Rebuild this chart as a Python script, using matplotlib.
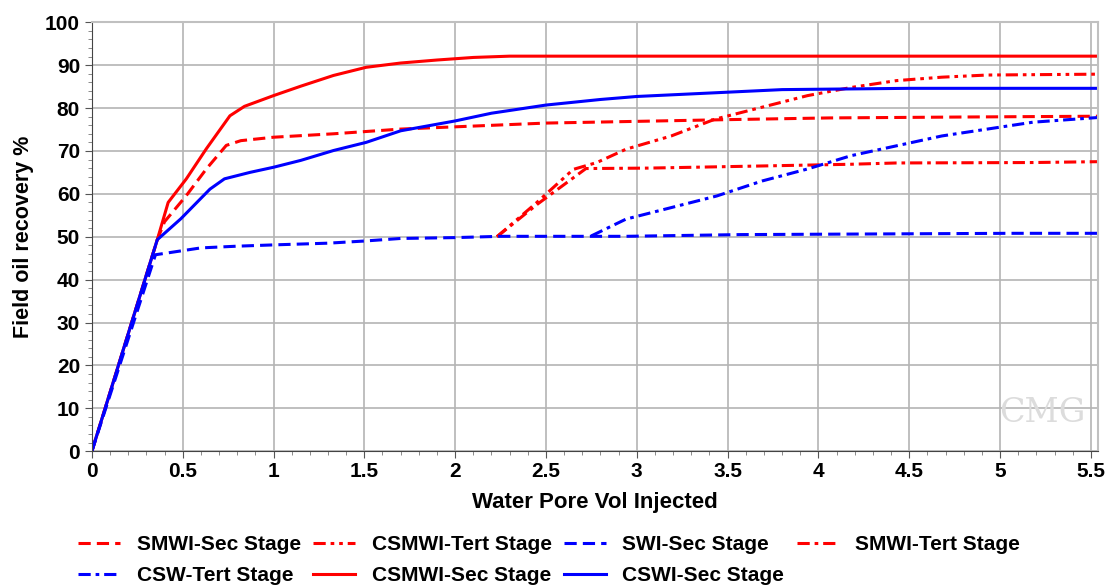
import matplotlib.pyplot as plt
from matplotlib.ticker import MultipleLocator

plt.rcParams['font.family'] = ['Liberation Sans', 'DejaVu Sans']
plt.rcParams['font.weight'] = 'bold'

# Water pore volume injected vs field oil recovery (%)
smwi_sec_x = [0, 0.36, 0.40, 0.52, 0.63, 0.74, 0.82, 1.0, 1.33, 1.7, 2.5, 3.5, 4.06, 4.75, 5.54]
smwi_sec_y = [0, 49.3, 53.5, 59.6, 65.8, 71.3, 72.4, 73.2, 74.0, 75.1, 76.5, 77.3, 77.7, 77.9, 78.1]

csmwi_tert_x = [2.23, 2.45, 2.65, 2.78, 2.94, 3.19, 3.43, 3.69, 3.94, 4.18, 4.43, 4.68, 4.93, 5.54]
csmwi_tert_y = [50.0, 58.0, 65.7, 67.3, 70.4, 73.5, 77.4, 80.2, 82.9, 84.8, 86.4, 87.2, 87.7, 87.9]

swi_sec_x = [0, 0.35, 0.6, 0.8, 1.0, 1.3, 1.5, 1.7, 2.0, 2.25, 2.94, 3.57, 5.06, 5.54]
swi_sec_y = [0, 45.8, 47.4, 47.8, 48.1, 48.5, 49.0, 49.6, 49.8, 50.1, 50.1, 50.5, 50.8, 50.8]

smwi_tert_x = [2.23, 2.45, 2.72, 3.06, 3.69, 4.18, 4.43, 5.18, 5.54]
smwi_tert_y = [50.0, 57.5, 65.9, 66.0, 66.5, 66.9, 67.2, 67.3, 67.5]

csw_tert_x = [2.75, 2.94, 3.19, 3.44, 3.69, 3.94, 4.18, 4.43, 4.68, 4.93, 5.18, 5.54]
csw_tert_y = [50.2, 54.1, 56.8, 59.5, 63.0, 65.8, 68.9, 71.2, 73.5, 75.1, 76.7, 77.8]

csmwi_sec_x = [0, 0.36, 0.42, 0.52, 0.63, 0.76, 0.84, 1.0, 1.15, 1.33, 1.51, 1.7, 1.9, 2.1, 2.3, 5.54]
csmwi_sec_y = [0, 49.3, 58.0, 63.5, 70.5, 78.2, 80.4, 82.9, 85.1, 87.6, 89.5, 90.5, 91.2, 91.8, 92.1, 92.1]

cswi_sec_x = [0, 0.36, 0.49, 0.65, 0.73, 0.87, 1.0, 1.15, 1.33, 1.51, 1.7, 2.0, 2.2, 2.5, 2.8, 3.0, 3.5, 3.8, 4.5, 5.54]
cswi_sec_y = [0, 49.3, 54.2, 61.1, 63.5, 65.0, 66.2, 67.8, 70.1, 72.0, 74.7, 77.0, 78.8, 80.7, 82.0, 82.7, 83.7, 84.3, 84.6, 84.6]

red = '#ff0000'
blue = '#0000ff'
dash = (0, (4, 2))
dashdotdot = (0, (4, 1.6, 1.2, 1.6, 1.2, 1.6))
dashdot = (0, (4, 1.6, 1.2, 1.6))

fig = plt.figure(figsize=(11.07, 5.86), dpi=100)
ax = fig.add_axes([0.083, 0.230, 0.909, 0.732])

lw = 2.2
h1, = ax.plot(smwi_sec_x, smwi_sec_y, color=red, ls=dash, lw=lw, label='SMWI-Sec Stage')
h2, = ax.plot(csmwi_tert_x, csmwi_tert_y, color=red, ls=dashdotdot, lw=lw, label='CSMWI-Tert Stage')
h4, = ax.plot(smwi_tert_x, smwi_tert_y, color=red, ls=dashdot, lw=lw, label='SMWI-Tert Stage')
h6, = ax.plot(csmwi_sec_x, csmwi_sec_y, color=red, ls='-', lw=lw, label='CSMWI-Sec Stage')
h3, = ax.plot(swi_sec_x, swi_sec_y, color=blue, ls=dash, lw=lw, label='SWI-Sec Stage')
h5, = ax.plot(csw_tert_x, csw_tert_y, color=blue, ls=dashdot, lw=lw, label='CSW-Tert Stage')
h7, = ax.plot(cswi_sec_x, cswi_sec_y, color=blue, ls='-', lw=lw, label='CSWI-Sec Stage')

ax.set_xlim(0, 5.54)
ax.set_ylim(0, 100)
ax.xaxis.set_major_locator(MultipleLocator(0.5))
ax.xaxis.set_minor_locator(MultipleLocator(0.1))
ax.yaxis.set_major_locator(MultipleLocator(10))
ax.yaxis.set_minor_locator(MultipleLocator(2))
ax.set_xticks([0, 0.5, 1, 1.5, 2, 2.5, 3, 3.5, 4, 4.5, 5, 5.5])
ax.set_xticklabels(['0', '0.5', '1', '1.5', '2', '2.5', '3', '3.5', '4', '4.5', '5', '5.5'])
ax.grid(True, which='major', color='#b4b4b4', lw=1.2)
ax.tick_params(which='major', length=5, color='#555555', labelsize=15)
ax.tick_params(axis='x', which='major', pad=3)
ax.tick_params(which='minor', length=3, color='#777777')
for s in ['top', 'right']:
    ax.spines[s].set_color('#c0c0c0')
    ax.spines[s].set_linewidth(1.5)
for s in ['left', 'bottom']:
    ax.spines[s].set_color('#444444')

ax.set_xlabel('Water Pore Vol Injected', fontsize=16, fontweight='bold', labelpad=8)
ax.set_ylabel('Field oil recovery %', fontsize=15.5, fontweight='bold', labelpad=8)

ax.text(0.945, 0.09, 'CMG', transform=ax.transAxes, ha='center', va='center',
        fontsize=24, color='#dcdcdc', family='DejaVu Serif', fontweight='normal')

handles = [h1, h5, h2, h6, h3, h7, h4]
fig.legend(handles=handles, labels=[h.get_label() for h in handles], ncol=4,
           loc='lower center', bbox_to_anchor=(0.496, -0.03), frameon=False,
           fontsize=15, handlelength=2.0, columnspacing=0.6, handletextpad=0.8,
           labelspacing=0.55)

fig.savefig('out.png', dpi=100)
